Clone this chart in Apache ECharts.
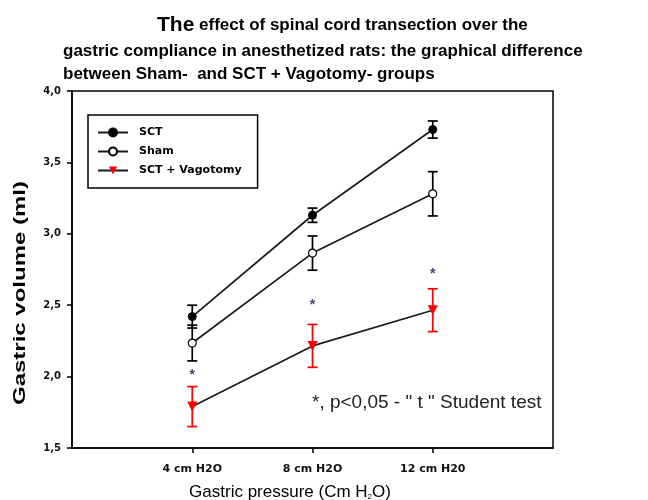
<!DOCTYPE html>
<html>
<head>
<meta charset="utf-8">
<script src="https://cdn.jsdelivr.net/npm/echarts@6/dist/echarts.min.js"></script>
<style>
  html, body { margin: 0; padding: 0; background: #fff; }
  #main { width: 648px; height: 500px; }
</style>
</head>
<body>
<div id="main"></div>
<script>
// gastric pressure (cm H2O) and tick labels
const pressures = [4, 8, 12];
const tickLabels = ["4 cm H2O", "8 cm H2O", "12 cm H20"];

// gastric volume (ml), mean and error
const sct = [2.42, 3.13, 3.73];
const sctErr = [0.08, 0.05, 0.06];
const sham = [2.235, 2.865, 3.28];
const shamErr = [0.125, 0.12, 0.155];
const vago = [1.79, 2.215, 2.465];
const vagoErr = [0.14, 0.15, 0.15];

// where the significance stars sit
const stars = [2.01, 2.5, 2.72];

const FONT = "Liberation Sans, Arial, sans-serif";
const WIDE = "DejaVu Sans, sans-serif";

function pts(ys) {
  return pressures.map((x, i) => [x, ys[i]]);
}
function errData(ys, es) {
  return pressures.map((x, i) => [x, ys[i] - es[i], ys[i] + es[i]]);
}
function errSeries(ys, es, color) {
  return {
    type: "custom",
    silent: true,
    z: 3,
    data: errData(ys, es),
    renderItem: function (params, api) {
      const lo = api.coord([api.value(0), api.value(1)]);
      const hi = api.coord([api.value(0), api.value(2)]);
      const w = 5;
      const st = { stroke: color, lineWidth: 1.7 };
      return {
        type: "group",
        children: [
          { type: "line", shape: { x1: lo[0], y1: lo[1], x2: hi[0], y2: hi[1] }, style: st },
          { type: "line", shape: { x1: lo[0] - w, y1: lo[1], x2: lo[0] + w, y2: lo[1] }, style: st },
          { type: "line", shape: { x1: hi[0] - w, y1: hi[1], x2: hi[0] + w, y2: hi[1] }, style: st },
        ],
      };
    },
  };
}

const myChart = echarts.init(document.getElementById("main"));
const titleStyle = { fontFamily: FONT, fontSize: 17, fontWeight: "bold", color: "#000" };
const option = {
  backgroundColor: "#fff",
  animation: false,
  title: [
    {
      text: "{a|The} effect of spinal cord transection over the",
      left: 152,
      top: 10,
      textStyle: Object.assign({}, titleStyle, {
        rich: { a: { fontFamily: FONT, fontSize: 21, fontWeight: "bold", color: "#000" } },
      }),
    },
    {
      text: "gastric compliance in anesthetized rats: the graphical difference",
      left: 58,
      top: 38,
      textStyle: titleStyle,
    },
    {
      text: "between Sham-  and SCT + Vagotomy- groups",
      left: 58,
      top: 61,
      textStyle: titleStyle,
    },
  ],
  grid: {
    left: 72,
    right: 95,
    top: 91,
    bottom: 52,
    show: true,
    borderColor: "#000",
    borderWidth: 1.5,
  },
  legend: {
    orient: "vertical",
    left: 88,
    top: 115,
    padding: [12, 16, 12, 9],
    itemWidth: 30,
    itemHeight: 10,
    itemGap: 8,
    borderColor: "#000",
    borderWidth: 1.5,
    textStyle: { fontFamily: WIDE, fontSize: 11, fontWeight: "bold", color: "#000", padding: [0, 0, 0, 6] },
    data: ["SCT", "Sham", "SCT + Vagotomy"],
  },
  xAxis: {
    type: "value",
    min: 0,
    max: 16,
    axisLine: { lineStyle: { color: "#000", width: 1.5 } },
    axisTick: { customValues: pressures, length: 5, lineStyle: { color: "#000", width: 1.5 } },
    axisLabel: {
      customValues: pressures,
      margin: 16,
      fontFamily: WIDE,
      fontSize: 11,
      fontWeight: "bold",
      color: "#111",
      formatter: (v) => tickLabels[pressures.indexOf(v)] || "",
    },
    splitLine: { show: false },
  },
  yAxis: {
    type: "value",
    min: 1.5,
    max: 4,
    interval: 0.5,
    axisLine: { show: true, lineStyle: { color: "#000", width: 1.5 } },
    axisTick: { show: true, length: 5, lineStyle: { color: "#000", width: 1.5 } },
    axisLabel: {
      margin: 11,
      fontFamily: WIDE,
      fontSize: 10,
      fontWeight: "bold",
      color: "#111",
      formatter: (v) => v.toFixed(1).replace(".", ","),
    },
    splitLine: { show: false },
  },
  graphic: [
    {
      type: "text",
      x: 21,
      y: 293,
      rotation: Math.PI / 2,
      scaleX: 1.5,
      style: {
        text: "Gastric volume (ml)",
        fontFamily: FONT,
        fontSize: 16,
        fontWeight: "bold",
        fill: "#000",
        align: "center",
        verticalAlign: "middle",
      },
    },
    {
      type: "text",
      x: 290,
      y: 492,
      style: {
        text: "{n|Gastric pressure (Cm H}{s|2}{n|O)}",
        align: "center",
        verticalAlign: "middle",
        rich: {
          n: { fontFamily: FONT, fontSize: 17, fill: "#000" },
          s: { fontFamily: FONT, fontSize: 8, fill: "#000", verticalAlign: "bottom" },
        },
      },
    },
    {
      type: "text",
      x: 312,
      y: 403,
      style: {
        text: '*, p<0,05 - " t " Student test',
        fontFamily: FONT,
        fontSize: 19,
        fill: "#222",
        align: "left",
        verticalAlign: "middle",
      },
    },
  ],
  series: [
    errSeries(sct, sctErr, "#000"),
    errSeries(sham, shamErr, "#000"),
    errSeries(vago, vagoErr, "#ff0000"),
    {
      name: "SCT",
      type: "line",
      z: 4,
      data: pts(sct),
      symbol: "circle",
      symbolSize: 8,
      lineStyle: { color: "#1a1a1a", width: 1.7 },
      itemStyle: { color: "#000", borderColor: "#000", borderWidth: 1 },
    },
    {
      name: "Sham",
      type: "line",
      z: 4,
      data: pts(sham),
      symbol: "circle",
      symbolSize: 8,
      lineStyle: { color: "#1a1a1a", width: 1.7 },
      itemStyle: { color: "#fff", borderColor: "#000", borderWidth: 1.2 },
    },
    {
      name: "SCT + Vagotomy",
      type: "line",
      z: 4,
      data: pts(vago),
      symbol: "triangle",
      symbolRotate: 180,
      symbolSize: 10,
      lineStyle: { color: "#1a1a1a", width: 1.7 },
      itemStyle: { color: "#ff0000", borderWidth: 0 },
    },
    {
      type: "custom",
      silent: true,
      z: 5,
      data: pts(stars),
      renderItem: function (params, api) {
        const p = api.coord([api.value(0), api.value(1)]);
        return {
          type: "text",
          x: p[0],
          y: p[1],
          style: {
            text: "*",
            fontFamily: FONT,
            fontSize: 14,
            fontWeight: "bold",
            fill: "#3d4a6a",
            align: "center",
            verticalAlign: "middle",
          },
        };
      },
    },
  ],
};
myChart.setOption(option);
</script>
</body>
</html>
